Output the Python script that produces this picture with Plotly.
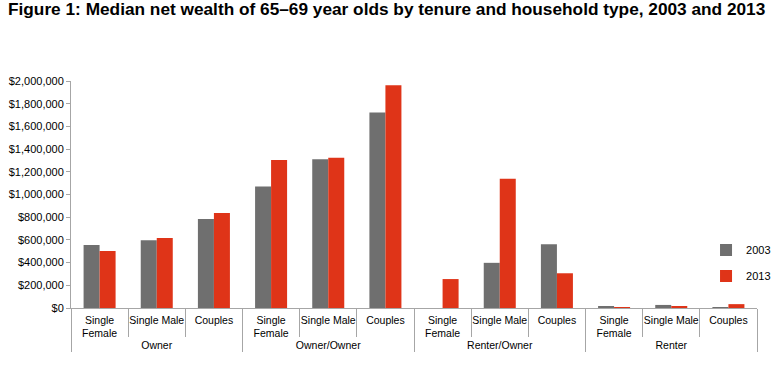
import plotly.graph_objects as go

tenure = ["Owner"] * 3 + ["Owner/Owner"] * 3 + ["Renter/Owner"] * 3 + ["Renter"] * 3
household = ["Single<br>Female", "Single Male", "Couples"] * 4
wealth_2003 = [555000, 598000, 785000, 1070000, 1311000, 1723000,
               0, 398000, 562000, 9000, 27000, 8000]
wealth_2013 = [502000, 617000, 837000, 1304000, 1323000, 1963000,
               255000, 1138000, 306000, 6000, 17000, 34000]
y_ticks = [0, 200000, 400000, 600000, 800000, 1000000, 1200000,
           1400000, 1600000, 1800000, 2000000]

fig = go.Figure()
fig.add_trace(go.Bar(x=[tenure, household], y=wealth_2003, name="2003",
                     legendgroup="a",
                     marker=dict(color="#6f6f6f", line=dict(width=0))))
fig.add_trace(go.Bar(x=[tenure, household], y=wealth_2013, name="2013",
                     legendgroup="b",
                     marker=dict(color="#df3418", line=dict(width=0))))

font = "Liberation Sans, Arial, sans-serif"
fig.update_layout(
    width=775, height=383,
    margin=dict(l=71, r=18, t=81, b=75, autoexpand=False),
    paper_bgcolor="white", plot_bgcolor="white",
    bargap=0.44, bargroupgap=0,
    font=dict(family=font, size=11, color="#000000"),
    title=dict(text="<b>Figure 1: Median net wealth of 65\u201369 year olds by tenure and household type, 2003 and 2013</b>",
               x=8 / 775, xanchor="left", y=1 - 9 / 383, yanchor="middle",
               font=dict(family=font, size=17.25, color="#000000")),
    legend=dict(x=0.9257, xanchor="left", y=0.198, yanchor="middle",
                bgcolor="rgba(0,0,0,0)", font=dict(size=11),
                traceorder="grouped", tracegroupgap=7, itemwidth=30),
    xaxis=dict(type="multicategory", showline=True, linecolor="#a6a6a6",
               showdividers=True, dividercolor="#a6a6a6", dividerwidth=1,
               tickfont=dict(size=10.5), tickangle=0,
               ticks="outside", tickson="boundaries", ticklen=28,
               tickcolor="#a6a6a6", tickwidth=1,
               ticklabelstandoff=2, automargin=False),
    yaxis=dict(range=[0, 2000000], tickvals=y_ticks,
               tickformat="$,.0f", showgrid=False, zeroline=False,
               showline=True, linecolor="#a6a6a6", ticks="outside",
               ticklen=4, tickcolor="#a6a6a6", tickfont=dict(size=11),
               automargin=False),
)

fig.write_html("out.html", config={"displayModeBar": False},
               post_script="document.body.style.margin='0';document.body.style.overflow='hidden';")
